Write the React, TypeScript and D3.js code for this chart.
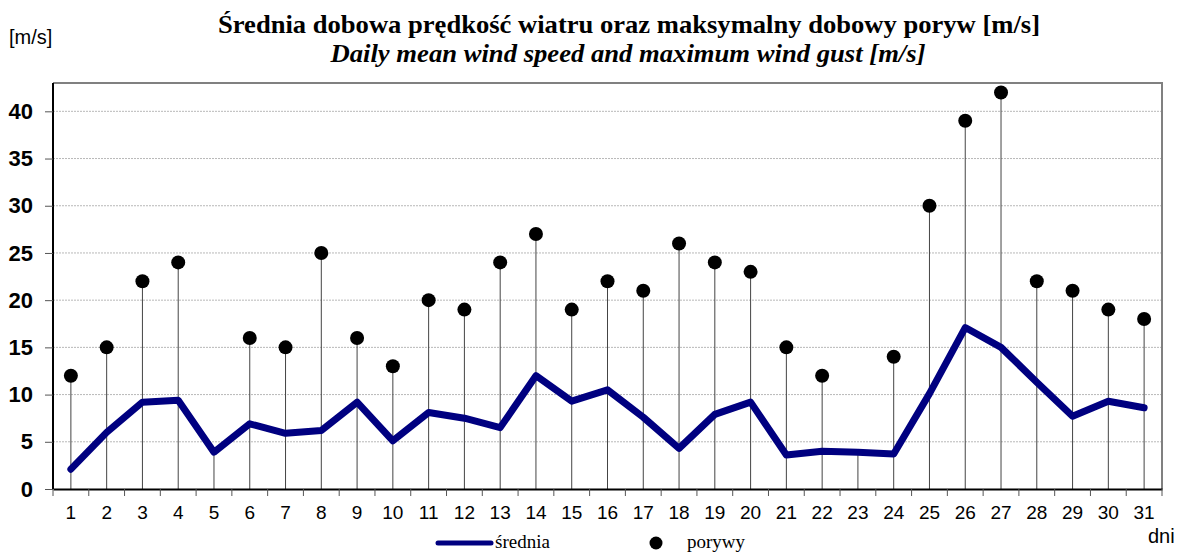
import React, { useEffect, useRef } from "react";
import * as d3 from "d3";

const days = d3.range(1, 32).map(String);
const meanSpeed = [
  2.1, 6.0, 9.2, 9.4, 3.9, 6.9, 5.9, 6.2, 9.2, 5.1, 8.1, 7.5, 6.5, 12.0, 9.3,
  10.5, 7.6, 4.3, 7.9, 9.2, 3.6, 4.0, 3.9, 3.7, 10.1, 17.1, 15.0, 11.3, 7.7,
  9.3, 8.6,
];
const gusts: (number | null)[] = [
  12, 15, 22, 24, null, 16, 15, 25, 16, 13, 20, 19, 24, 27, 19, 22, 21, 26, 24,
  23, 15, 12, null, 14, 30, 39, 42, 22, 21, 19, 18,
];
const yTicks = [0, 5, 10, 15, 20, 25, 30, 35, 40];

const width = 1185;
const height = 554;
const left = 53;
const right = 1162;
const top = 83;
const bottom = 489;

const sans = "Liberation Sans, Arial, sans-serif";
const serif = "Liberation Serif, Times New Roman, serif";

const App: React.FC = () => {
  const svgRef = useRef<SVGSVGElement>(null);

  useEffect(() => {
    if (!svgRef.current) return;
    const svg = d3.select(svgRef.current);
    svg.selectAll("*").remove();

    const x = d3.scaleBand().domain(days).range([left, right]);
    const y = d3.scaleLinear().domain([0, 43]).range([bottom, top]);
    const cx = (d: string) => (x(d) ?? 0) + x.bandwidth() / 2;

    // gridlines
    svg
      .append("g")
      .selectAll("line")
      .data(yTicks.filter((t) => t > 0))
      .join("line")
      .attr("x1", left)
      .attr("x2", right)
      .attr("y1", (d) => y(d))
      .attr("y2", (d) => y(d))
      .attr("stroke", "#b8b8b8")
      .attr("stroke-width", 1)
      .attr("stroke-dasharray", "2,1");

    // drop lines from the highest point of each day
    svg
      .append("g")
      .selectAll("line")
      .data(days)
      .join("line")
      .attr("x1", (d) => cx(d))
      .attr("x2", (d) => cx(d))
      .attr("y1", (_, i) => y(Math.max(gusts[i] ?? 0, meanSpeed[i])))
      .attr("y2", bottom)
      .attr("stroke", "#444")
      .attr("stroke-width", 1);

    // frame
    svg
      .append("path")
      .attr("d", `M${left},${top}H${right}V${bottom}`)
      .attr("fill", "none")
      .attr("stroke", "#808080")
      .attr("stroke-width", 2);

    const yAxis = svg
      .append("g")
      .attr("transform", `translate(${left},0)`)
      .call(d3.axisLeft(y).tickValues(yTicks).tickSize(8).tickPadding(12));
    yAxis
      .select(".domain")
      .attr("stroke", "#000")
      .attr("stroke-width", 2)
      .attr("d", `M0,${top}V${bottom}`);
    yAxis.selectAll(".tick line").attr("stroke", "#555");
    yAxis
      .selectAll("text")
      .attr("font-family", sans)
      .attr("font-weight", "bold")
      .attr("font-size", 22)
      .attr("fill", "#000");

    const xAxis = svg
      .append("g")
      .attr("transform", `translate(0,${bottom})`)
      .call(d3.axisBottom(x).tickSize(0).tickPadding(17));
    xAxis.select(".domain").attr("stroke", "#000").attr("stroke-width", 2);
    xAxis
      .selectAll("text")
      .attr("font-family", sans)
      .attr("font-size", 19)
      .attr("fill", "#000");
    // tick marks at category boundaries
    xAxis
      .append("g")
      .selectAll("line")
      .data(days.concat(["end"]))
      .join("line")
      .attr("x1", (d) => (d === "end" ? right : x(d) ?? 0))
      .attr("x2", (d) => (d === "end" ? right : x(d) ?? 0))
      .attr("y1", 0)
      .attr("y2", 7)
      .attr("stroke", "#555");

    // mean line
    const line = d3
      .line<number>()
      .x((_, i) => cx(days[i]))
      .y((d) => y(d));
    svg
      .append("path")
      .datum(meanSpeed)
      .attr("d", line)
      .attr("fill", "none")
      .attr("stroke", "#000080")
      .attr("stroke-width", 7)
      .attr("stroke-linejoin", "round")
      .attr("stroke-linecap", "round");

    // gust points
    svg
      .append("g")
      .selectAll("circle")
      .data(days.filter((_, i) => gusts[i] !== null))
      .join("circle")
      .attr("cx", (d) => cx(d))
      .attr("cy", (d) => y(gusts[days.indexOf(d)] as number))
      .attr("r", 7)
      .attr("fill", "#000");

    // titles
    svg
      .append("text")
      .attr("x", 629)
      .attr("y", 33)
      .attr("text-anchor", "middle")
      .attr("font-family", serif)
      .attr("font-weight", "bold")
      .attr("font-size", 26)
      .attr("textLength", 822)
      .attr("lengthAdjust", "spacingAndGlyphs")
      .text("Średnia dobowa prędkość wiatru oraz maksymalny dobowy poryw [m/s]");
    svg
      .append("text")
      .attr("x", 628)
      .attr("y", 62)
      .attr("text-anchor", "middle")
      .attr("font-family", serif)
      .attr("font-weight", "bold")
      .attr("font-style", "italic")
      .attr("font-size", 26)
      .attr("textLength", 595)
      .attr("lengthAdjust", "spacingAndGlyphs")
      .text("Daily mean wind speed and maximum wind gust [m/s]");

    svg
      .append("text")
      .attr("x", 9)
      .attr("y", 44)
      .attr("font-family", sans)
      .attr("font-size", 20)
      .text("[m/s]");
    svg
      .append("text")
      .attr("x", 1148)
      .attr("y", 543)
      .attr("font-family", sans)
      .attr("font-size", 20)
      .text("dni");

    // legend
    const lg = svg.append("g");
    lg.append("line")
      .attr("x1", 438)
      .attr("x2", 491)
      .attr("y1", 543)
      .attr("y2", 543)
      .attr("stroke", "#000080")
      .attr("stroke-width", 5)
      .attr("stroke-linecap", "round");
    lg.append("text")
      .attr("x", 495)
      .attr("y", 548)
      .attr("font-family", serif)
      .attr("font-size", 19)
      .text("średnia");
    lg.append("circle").attr("cx", 656).attr("cy", 543).attr("r", 6.5).attr("fill", "#000");
    lg.append("text")
      .attr("x", 687)
      .attr("y", 548)
      .attr("font-family", serif)
      .attr("font-size", 19)
      .text("porywy");
  }, []);

  return (
    <svg
      ref={svgRef}
      width={width}
      height={height}
      style={{ position: "absolute", left: 0, top: 0, background: "#fff" }}
    />
  );
};

export default App;
